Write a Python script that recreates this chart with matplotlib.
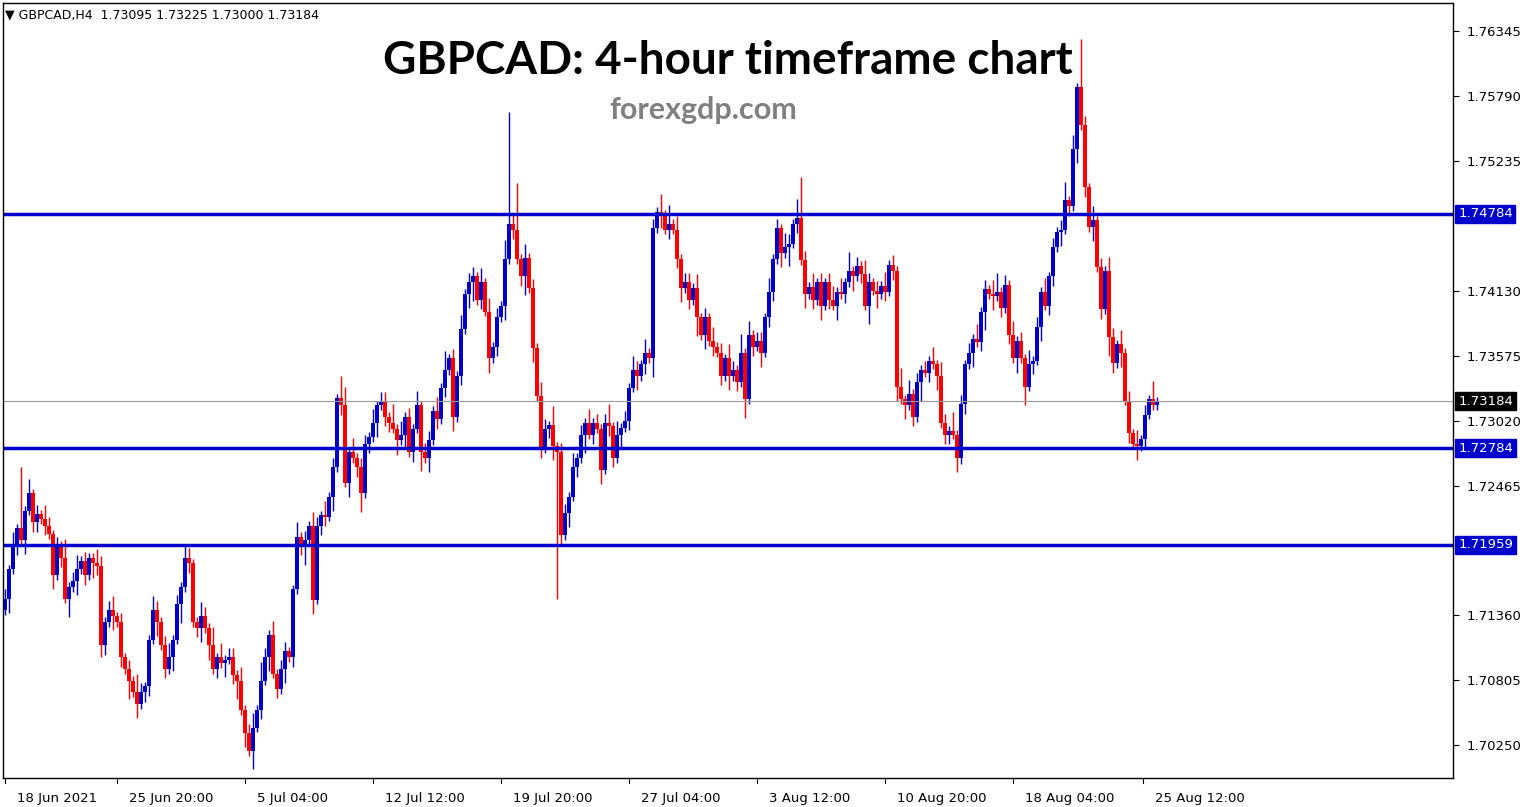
import matplotlib
matplotlib.use("Agg")
import matplotlib.pyplot as plt
import numpy as np

closes = [1.7150,1.7175,1.7195,1.7210,1.7200,1.7225,1.7240,1.7215,1.7222,1.7218,1.7212,1.7205,1.7170,1.7195,1.7185,1.7150,1.7160,1.7165,1.7175,1.7182,1.7170,1.7185,1.7180,1.7178,1.7110,
1.7130,1.7140,1.7135,1.7130,1.7100,1.7090,1.7080,1.7070,1.7060,1.7070,1.7075,1.7115,1.7140,1.7130,1.7110,1.7090,1.7100,1.7115,1.7145,1.7160,1.7185,1.7180,
1.7130,1.7125,1.7135,1.7125,1.7110,1.7090,1.7100,1.7095,1.7098,1.7100,1.7085,1.7080,1.7055,1.7035,1.7020,1.7040,1.7055,
1.7080,1.7100,1.7119,1.7086,1.7073,1.7090,1.7105,1.7100,1.7158,1.7203,1.7195,1.7200,1.7212,1.7149,1.7212,1.7221,1.7220,1.7237,1.7262,1.7321,
1.7315,1.7249,1.7275,1.7270,1.7262,1.7240,1.7282,1.7288,1.7300,1.7315,1.7318,1.7305,1.7300,1.7295,1.7285,1.7290,1.7305,1.7275,1.7295,1.7315,1.7275,1.7270,1.7285,1.7310,1.7303,1.7330,1.7345,1.7355,1.7305,1.7340,1.7380,1.7410,1.7420,1.7425,1.7405,1.7420,1.7395,1.7355,
1.7365,1.7390,1.7400,1.7440,1.7470,1.7465,1.7440,1.7425,
1.7441,1.7415,1.7364,1.7323,1.7278,1.7295,1.7298,1.7280,1.7275,1.7204,1.7223,1.7237,1.7262,1.7270,1.7290,1.7300,1.7290,1.7300,1.7295,1.7260,1.7300,1.7297,1.7270,1.7290,1.7296,1.7302,1.7330,1.7345,1.7340,1.7350,1.7360,1.7355,1.7466,1.7480,1.7478,1.7465,1.7470,1.7465,1.7440,1.7415,1.7420,1.7405,1.7415,1.7390,1.7375,1.7390,1.7370,1.7365,1.7360,1.7340,1.7355,1.7340,1.7345,1.7335,1.7360,1.7320,1.7375,1.7365,1.7370,
1.7360,1.7390,1.7412,1.7440,1.7466,1.7445,1.7450,1.7453,1.7470,1.7475,1.7439,1.7410,1.7416,1.7405,1.7420,1.7400,1.7420,1.7405,1.7400,1.7412,1.7410,1.7420,1.7430,1.7425,1.7434,1.7427,1.7400,1.7420,1.7413,1.7410,1.7417,1.7412,1.7435,1.7430,1.7331,1.7320,1.7315,1.7325,1.7305,1.7335,1.7345,1.7343,1.7353,1.7350,1.7340,1.7300,1.7290,1.7293,1.7290,1.7270,1.7316,1.7350,1.7360,1.7372,1.7369,1.7395,1.7414,1.7410,1.7408,1.7412,1.7398,1.7418,1.7375,1.7355,1.7370,1.7355,
1.7331,1.7350,1.7353,1.7382,1.7412,1.7400,1.7425,1.7450,1.7463,1.7465,1.7490,1.7485,1.7534,1.7587,1.7554,1.7501,1.7467,1.7473,1.7433,1.7397,1.7430,1.7373,1.7351,1.7367,1.7360,1.7319,1.7291,1.7282,1.7280,1.7286,1.7307,1.7320,1.7315,1.73184]
first_open = 1.7140

wick_up = ("2131213121321214123121132123121214211321231213211321413122131231421312"
           "2113121321312124131221312214131213122131412131221313121412213121321412"
           "2131213121241312132131212141312213121312132141312213121321412131212313"
           "14121321213121413121213132141212131213412131213121312124131221312132131213121412")
wick_dn = ("1312131221213121413121321213121413122131213141212313121312413121213121"
           "3121241312213121312412131221313121413121213121341213121312124131212312"
           "1312141213122131213121413121231214131212131214121312213141213121312131"
           "21312141312123131214121312213121312413121213141213122131213121312142131213121")

high_override = {4: 1.7262, 84: 1.7340, 126: 1.7565, 128: 1.7505, 164: 1.7495, 199: 1.7510, 269: 1.7628, 268: 1.7590}
low_override = {62: 1.7005, 138: 1.7150, 239: 1.7265, 24: 1.7100}

levels = [1.74784, 1.72784, 1.71959]
last_price = 1.73184
yticks = [1.76345, 1.75790, 1.75235, 1.74130, 1.73575, 1.73020, 1.72465, 1.71360, 1.70805, 1.70250]
xlabels = ["18 Jun 2021", "25 Jun 20:00", "5 Jul 04:00", "12 Jul 12:00", "19 Jul 20:00",
           "27 Jul 04:00", "3 Aug 12:00", "10 Aug 20:00", "18 Aug 04:00", "25 Aug 12:00"]
xlabel_idx = [3, 31, 63, 95, 127, 159, 191, 223, 255, 287.5]

n = len(closes)
c = np.array(closes)
o = np.concatenate([[first_open], c[:-1]])
unit = 0.0004
wu = np.array([int(ch) for ch in wick_up.ljust(n, "1")[:n]]) * unit
wd = np.array([int(ch) for ch in wick_dn.ljust(n, "1")[:n]]) * unit
h = np.maximum(o, c) + wu
l = np.minimum(o, c) - wd
for k, v in high_override.items():
    if k < n: h[k] = v
for k, v in low_override.items():
    if k < n: l[k] = v

BLUE = "#0000CC"
RED = "#FF0000"
fig = plt.figure(figsize=(15.29, 8.07), dpi=100)
ax = fig.add_axes([3/1529, 29/807, 1450/1529, 775/807])
x = np.arange(n)
up = c >= o
cols = np.where(up, BLUE, RED)
ax.vlines(x, l, h, colors=cols, lw=1.0)
body_lo = np.minimum(o, c)
body_h = np.maximum(np.abs(c - o), 0.00004)
ax.bar(x, body_h, bottom=body_lo, width=0.82, color=cols, edgecolor=cols, lw=0)

for lv in levels:
    ax.axhline(lv, color=BLUE, lw=2.5)
ax.axhline(last_price, color="#999999", lw=0.8)

ymin, ymax = 1.69969, 1.76584
ax.set_ylim(ymin, ymax)
ax.set_xlim(-0.5, 362)
ax.yaxis.tick_right()
ax.set_yticks(yticks)
ax.set_yticklabels([f"{t:.5f}" for t in yticks], fontsize=9.5)
ax.tick_params(axis='y', length=4, pad=6)
ax.set_xticks([])
for s in ax.spines.values():
    s.set_linewidth(1.0)

for lx, lab in zip(xlabel_idx, xlabels):
    ax.text(lx, -0.018, lab, transform=ax.get_xaxis_transform(), ha='left', va='top', fontsize=9.5)
    ax.plot([lx - 3, lx - 3], [0, -0.006], transform=ax.get_xaxis_transform(), color='k', lw=0.8, clip_on=False)

for lv in levels:
    ax.text(1.0035, lv, f"{lv:.5f}", transform=ax.get_yaxis_transform(), va='center', ha='left',
            fontsize=9.5, color='white', bbox=dict(boxstyle='square,pad=0.2', fc=BLUE, ec=BLUE))
ax.text(1.0035, last_price, f"{last_price:.5f}", transform=ax.get_yaxis_transform(), va='center', ha='left',
        fontsize=9.5, color='white', bbox=dict(boxstyle='square,pad=0.2', fc='black', ec='black'))

fig.text(0.003, 0.982, "\u25BC GBPCAD,H4  1.73095 1.73225 1.73000 1.73184", fontsize=9, va='center', ha='left',
         family=['DejaVu Sans'])
fig.text(728/1529, 1 - 61/807, "GBPCAD: 4-hour timeframe chart", fontsize=33, fontweight='bold',
         family='Lato', ha='center', va='center')
fig.text(703/1529, 1 - 110/807, "forexgdp.com", fontsize=22, fontweight='bold', color='#808080',
         family='Lato', ha='center', va='center')

fig.savefig("out.png", dpi=100)
